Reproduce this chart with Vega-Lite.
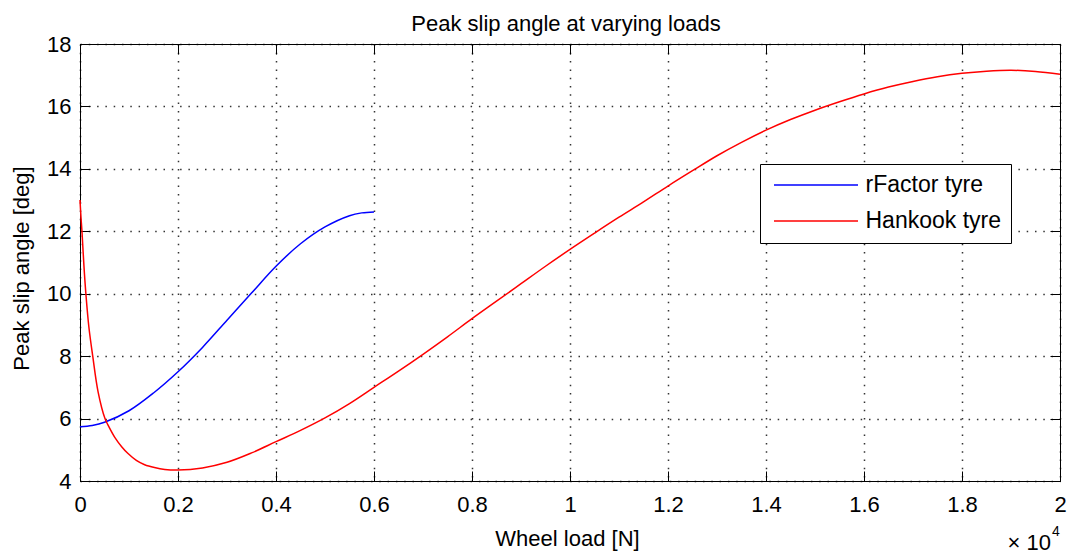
{
  "$schema": "https://vega.github.io/schema/vega-lite/v6.json",
  "autosize": "none",
  "width": 980,
  "height": 437,
  "padding": {"left": 80, "top": 44, "right": 13, "bottom": 73},
  "background": "white",
  "title": {
    "text": "Peak slip angle at varying loads",
    "fontSize": 22,
    "fontWeight": "normal",
    "font": "Liberation Sans",
    "color": "#000",
    "baseline": "alphabetic",
    "offset": 14,
    "dx": -4,
    "dy": 34
  },
  "config": {
    "font": "Liberation Sans",
    "view": {"stroke": "#000", "strokeWidth": 1},
    "axis": {
      "minExtent": 0,
      "labelFont": "Liberation Sans",
      "labelFontSize": 22,
      "labelColor": "#000",
      "titleFont": "Liberation Sans",
      "titleFontSize": 22,
      "titleFontWeight": "normal",
      "titleColor": "#000",
      "domainColor": "#000",
      "tickColor": "#000",
      "tickSize": -10,
      "tickWidth": 1,
      "gridColor": "#333",
      "gridWidth": 1.5,
      "gridDash": [1.5, 6.8],
      "labelFlush": false,
      "labelOverlap": false,
      "labelBound": false
    },
    "legend": {
      "orient": "none",
      "legendX": 680,
      "legendY": 120,
      "fillColor": "white",
      "strokeColor": "#000",
      "padding": 9.5,
      "symbolType": "stroke",
      "symbolSize": 7056,
      "symbolStrokeWidth": 1.5,
      "symbolOffset": 3.5,
      "labelOffset": 6.5,
      "labelFont": "Liberation Sans",
      "labelFontSize": 23,
      "labelColor": "#000",
      "clipHeight": 23,
      "rowPadding": 12
    }
  },
  "datasets": {
    "curves": [
      {"load": 0, "angle": 5.74, "tyre": "rFactor tyre"},
      {"load": 250, "angle": 5.78, "tyre": "rFactor tyre"},
      {"load": 500, "angle": 5.88, "tyre": "rFactor tyre"},
      {"load": 1000, "angle": 6.25, "tyre": "rFactor tyre"},
      {"load": 1500, "angle": 6.82, "tyre": "rFactor tyre"},
      {"load": 2000, "angle": 7.5, "tyre": "rFactor tyre"},
      {"load": 2500, "angle": 8.28, "tyre": "rFactor tyre"},
      {"load": 3000, "angle": 9.15, "tyre": "rFactor tyre"},
      {"load": 3500, "angle": 10.02, "tyre": "rFactor tyre"},
      {"load": 4000, "angle": 10.88, "tyre": "rFactor tyre"},
      {"load": 4500, "angle": 11.6, "tyre": "rFactor tyre"},
      {"load": 5000, "angle": 12.14, "tyre": "rFactor tyre"},
      {"load": 5500, "angle": 12.5, "tyre": "rFactor tyre"},
      {"load": 5750, "angle": 12.59, "tyre": "rFactor tyre"},
      {"load": 6000, "angle": 12.62, "tyre": "rFactor tyre"},
      {"load": 0, "angle": 13.0, "tyre": "Hankook tyre"},
      {"load": 20, "angle": 12.45, "tyre": "Hankook tyre"},
      {"load": 40, "angle": 12.0, "tyre": "Hankook tyre"},
      {"load": 80, "angle": 10.9, "tyre": "Hankook tyre"},
      {"load": 120, "angle": 10.0, "tyre": "Hankook tyre"},
      {"load": 180, "angle": 8.95, "tyre": "Hankook tyre"},
      {"load": 260, "angle": 8.0, "tyre": "Hankook tyre"},
      {"load": 370, "angle": 6.85, "tyre": "Hankook tyre"},
      {"load": 510, "angle": 6.0, "tyre": "Hankook tyre"},
      {"load": 570, "angle": 5.8, "tyre": "Hankook tyre"},
      {"load": 710, "angle": 5.4, "tyre": "Hankook tyre"},
      {"load": 850, "angle": 5.1, "tyre": "Hankook tyre"},
      {"load": 980, "angle": 4.88, "tyre": "Hankook tyre"},
      {"load": 1150, "angle": 4.66, "tyre": "Hankook tyre"},
      {"load": 1320, "angle": 4.52, "tyre": "Hankook tyre"},
      {"load": 1520, "angle": 4.43, "tyre": "Hankook tyre"},
      {"load": 1730, "angle": 4.37, "tyre": "Hankook tyre"},
      {"load": 2000, "angle": 4.35, "tyre": "Hankook tyre"},
      {"load": 2500, "angle": 4.42, "tyre": "Hankook tyre"},
      {"load": 3000, "angle": 4.6, "tyre": "Hankook tyre"},
      {"load": 3500, "angle": 4.9, "tyre": "Hankook tyre"},
      {"load": 4000, "angle": 5.26, "tyre": "Hankook tyre"},
      {"load": 4500, "angle": 5.62, "tyre": "Hankook tyre"},
      {"load": 5000, "angle": 6.02, "tyre": "Hankook tyre"},
      {"load": 5500, "angle": 6.48, "tyre": "Hankook tyre"},
      {"load": 6000, "angle": 7.0, "tyre": "Hankook tyre"},
      {"load": 6500, "angle": 7.52, "tyre": "Hankook tyre"},
      {"load": 7000, "angle": 8.06, "tyre": "Hankook tyre"},
      {"load": 7500, "angle": 8.62, "tyre": "Hankook tyre"},
      {"load": 8000, "angle": 9.2, "tyre": "Hankook tyre"},
      {"load": 8500, "angle": 9.76, "tyre": "Hankook tyre"},
      {"load": 9000, "angle": 10.32, "tyre": "Hankook tyre"},
      {"load": 9500, "angle": 10.88, "tyre": "Hankook tyre"},
      {"load": 10000, "angle": 11.42, "tyre": "Hankook tyre"},
      {"load": 10500, "angle": 11.94, "tyre": "Hankook tyre"},
      {"load": 11000, "angle": 12.45, "tyre": "Hankook tyre"},
      {"load": 11500, "angle": 12.94, "tyre": "Hankook tyre"},
      {"load": 12000, "angle": 13.45, "tyre": "Hankook tyre"},
      {"load": 12500, "angle": 13.94, "tyre": "Hankook tyre"},
      {"load": 13000, "angle": 14.42, "tyre": "Hankook tyre"},
      {"load": 13500, "angle": 14.85, "tyre": "Hankook tyre"},
      {"load": 14000, "angle": 15.24, "tyre": "Hankook tyre"},
      {"load": 14500, "angle": 15.58, "tyre": "Hankook tyre"},
      {"load": 15000, "angle": 15.88, "tyre": "Hankook tyre"},
      {"load": 15500, "angle": 16.15, "tyre": "Hankook tyre"},
      {"load": 16000, "angle": 16.4, "tyre": "Hankook tyre"},
      {"load": 16500, "angle": 16.62, "tyre": "Hankook tyre"},
      {"load": 17000, "angle": 16.8, "tyre": "Hankook tyre"},
      {"load": 17500, "angle": 16.95, "tyre": "Hankook tyre"},
      {"load": 18000, "angle": 17.06, "tyre": "Hankook tyre"},
      {"load": 18500, "angle": 17.13, "tyre": "Hankook tyre"},
      {"load": 19000, "angle": 17.16, "tyre": "Hankook tyre"},
      {"load": 19500, "angle": 17.12, "tyre": "Hankook tyre"},
      {"load": 20000, "angle": 17.03, "tyre": "Hankook tyre"}
    ]
  },
  "resolve": {"axis": {"x": "independent", "y": "independent"}},
  "layer": [
    {
      "data": {"name": "curves"},
      "mark": {"type": "line", "strokeWidth": 1.5, "interpolate": "catmull-rom"},
      "encoding": {
        "x": {
          "field": "load",
          "type": "quantitative",
          "scale": {"domain": [0, 20000], "nice": false, "zero": false},
          "axis": {
            "orient": "bottom",
            "values": [0, 2000, 4000, 6000, 8000, 10000, 12000, 14000, 16000, 18000, 20000],
            "labelExpr": "datum.value / 10000",
            "labelPadding": 23,
            "grid": true,
            "title": "Wheel load [N]",
            "titleBaseline": "alphabetic",
            "titleX": 487,
            "titleY": 64,
            "titleAnchor": null,
            "titleAlign": "center"
          }
        },
        "y": {
          "field": "angle",
          "type": "quantitative",
          "scale": {"domain": [4, 18], "nice": false, "zero": false},
          "axis": {
            "orient": "left",
            "values": [4, 6, 8, 10, 12, 14, 16, 18],
            "labelPadding": 19,
            "grid": true,
            "title": "Peak slip angle [deg]",
            "titleAngle": -90,
            "titleBaseline": "alphabetic",
            "titleAlign": "center",
            "titleX": -51.5,
            "titleY": 224
          }
        },
        "color": {
          "field": "tyre",
          "type": "nominal",
          "scale": {"domain": ["rFactor tyre", "Hankook tyre"], "range": ["#0000ff", "#ff0000"]},
          "legend": {"title": null}
        }
      }
    },
    {
      "data": {"values": [{"note": "× 10"}]},
      "mark": {"type": "text", "align": "right", "baseline": "alphabetic", "dx": -9, "dy": 69, "fontSize": 22, "font": "Liberation Sans", "color": "#000"},
      "encoding": {
        "x": {
          "datum": 20000,
          "type": "quantitative",
          "axis": {
            "orient": "top",
            "values": [0, 2000, 4000, 6000, 8000, 10000, 12000, 14000, 16000, 18000, 20000],
            "labels": false,
            "grid": false,
            "title": null,
            "minExtent": 0,
            "maxExtent": 0
          }
        },
        "y": {
          "datum": 4,
          "type": "quantitative",
          "axis": {
            "orient": "right",
            "values": [4, 6, 8, 10, 12, 14, 16, 18],
            "labels": false,
            "grid": false,
            "title": null,
            "minExtent": 0,
            "maxExtent": 0
          }
        },
        "text": {"field": "note", "type": "nominal"}
      }
    },
    {
      "data": {"values": [{"note": "4"}]},
      "mark": {"type": "text", "align": "left", "baseline": "alphabetic", "dx": -8, "dy": 55, "fontSize": 14, "font": "Liberation Sans", "color": "#000"},
      "encoding": {
        "x": {"datum": 20000, "type": "quantitative", "axis": null},
        "y": {"datum": 4, "type": "quantitative", "axis": null},
        "text": {"field": "note", "type": "nominal"}
      }
    }
  ]
}
